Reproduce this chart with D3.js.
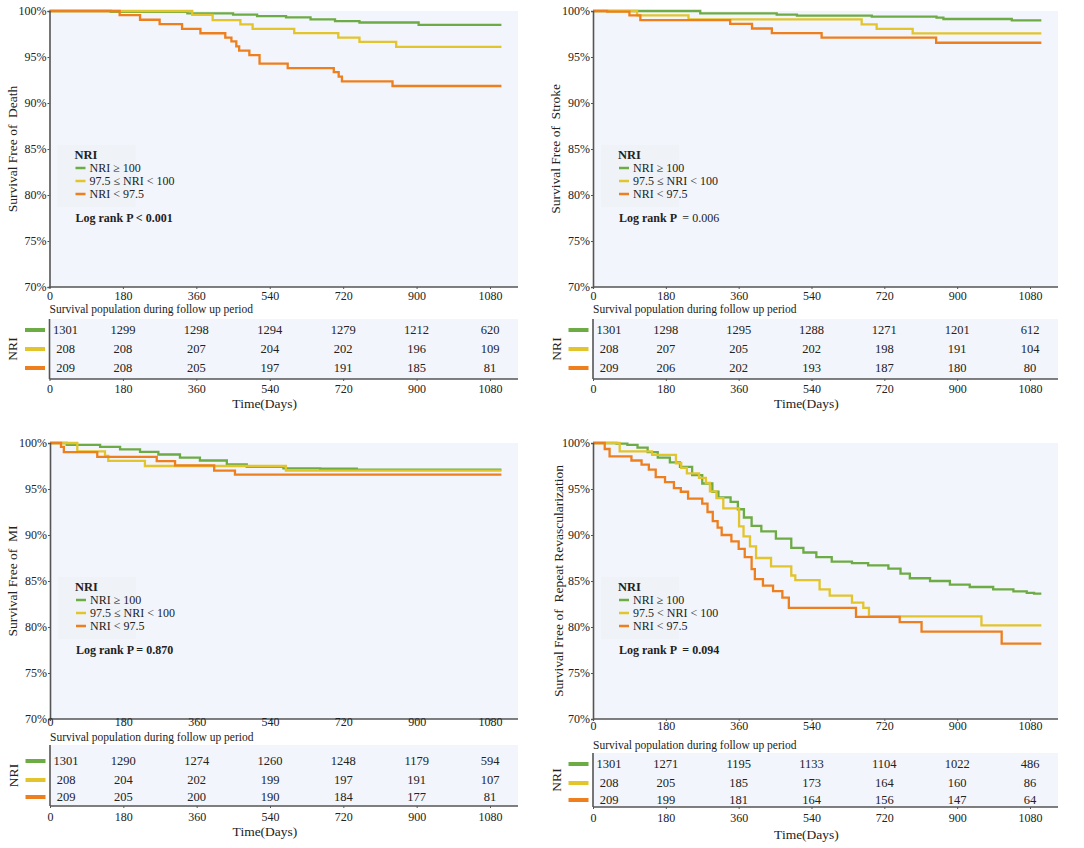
<!DOCTYPE html>
<html>
<head>
<meta charset="utf-8">
<script src="https://cdn.jsdelivr.net/npm/d3@7"></script>
<style>
  body { margin: 0; background: #fff; }
  svg { display: block; font-family: "Liberation Serif", "DejaVu Serif", serif; }
  text { fill: #222; }
</style>
</head>
<body>
<div id="chart"></div>
<script>
// time ticks and survival ticks
var dayTicks = [0, 180, 360, 540, 720, 900, 1080];
var pctTicks = [70, 75, 80, 85, 90, 95, 100];
var groups = ["NRI \u2265 100", "97.5 \u2264 NRI < 100", "NRI < 97.5"];
var groupsRevasc = ["NRI \u2265 100", "97.5 < NRI < 100", "NRI < 97.5"];

// Kaplan-Meier steps: [day, survival %]
var deathHigh = [[0,100],[150,99.9],[338,99.75],[450,99.6],[509,99.45],[580,99.3],[640,99.1],[700,98.9],[760,98.75],[905,98.5],[1108,98.5]];
var deathMid = [[0,100],[350,99.57],[400,99.0],[468,98.55],[498,98.05],[600,97.6],[708,97.1],[760,96.65],[850,96.1],[1108,96.1]];
var deathLow = [[0,100],[172,99.55],[222,99.05],[270,98.58],[325,98.05],[370,97.58],[431,97.1],[446,96.7],[458,96.15],[465,95.7],[490,95.2],[515,94.28],[584,93.8],[697,93.35],[709,92.86],[717,92.35],[841,91.85],[1108,91.85]];

var strokeHigh = [[0,100],[265,99.75],[454,99.6],[504,99.5],[689,99.38],[849,99.27],[866,99.13],[1035,98.98],[1108,98.98]];
var strokeMid = [[0,100],[109,99.53],[236,99.1],[664,98.55],[701,98.05],[790,97.57],[1108,97.57]];
var strokeLow = [[0,100],[35,99.93],[90,99.53],[117,99.0],[339,98.6],[393,98.1],[442,97.6],[565,97.1],[848,96.55],[1108,96.55]];

var miHigh = [[0,100],[41,99.8],[123,99.57],[172,99.3],[221,99.04],[266,98.75],[319,98.4],[368,98.1],[434,97.68],[483,97.4],[573,97.25],[663,97.2],[753,97.1],[1108,97.1]];
var miMid = [[0,100],[67,99.1],[135,98.6],[143,98.05],[233,97.5],[579,97.0],[1108,97.0]];
var miLow = [[0,100],[27,99.57],[34,99.0],[116,98.5],[262,98.04],[307,97.57],[403,97.0],[454,96.57],[1108,96.57]];

var revHigh = [[0,100],[58,99.93],[85,99.8],[110,99.5],[135,99.0],[160,98.4],[190,97.9],[215,97.4],[245,96.5],[270,95.6],[295,94.7],[310,94.1],[340,93.6],[358,92.8],[373,91.9],[392,91.0],[416,90.4],[452,89.6],[490,88.6],[520,88.1],[552,87.6],[590,87.1],[640,86.95],[680,86.7],[730,86.35],[760,85.8],[783,85.3],[833,85.0],[882,84.6],[931,84.35],[989,84.1],[1039,83.88],[1072,83.7],[1090,83.62],[1108,83.62]];
var revMid = [[0,100],[66,99.1],[146,98.7],[205,97.8],[218,97.3],[232,96.7],[262,96.2],[279,95.65],[289,94.74],[305,94.0],[322,92.9],[361,90.94],[372,89.85],[388,88.76],[403,87.5],[440,86.6],[490,85.6],[500,85.1],[560,84.1],[585,83.4],[640,82.65],[668,82.07],[682,81.16],[960,80.18],[1108,80.18]];
var revLow = [[0,100],[29,99.35],[41,98.55],[95,98.1],[120,97.64],[138,97.1],[155,96.3],[178,95.75],[200,95.1],[217,94.7],[235,93.95],[270,93.4],[283,92.5],[296,91.5],[308,90.8],[318,90.0],[342,89.3],[360,88.5],[375,87.6],[392,86.3],[400,85.2],[420,84.5],[445,83.9],[468,83.2],[484,82.07],[650,81.1],[758,80.54],[812,79.5],[1010,78.2],[1108,78.2]];

// numbers at risk at each day tick
var deathRisk = [[1301,1299,1298,1294,1279,1212,620],[208,208,207,204,202,196,109],[209,208,205,197,191,185,81]];
var strokeRisk = [[1301,1298,1295,1288,1271,1201,612],[208,207,205,202,198,191,104],[209,206,202,193,187,180,80]];
var miRisk = [[1301,1290,1274,1260,1248,1179,594],[208,204,202,199,197,191,107],[209,205,200,190,184,177,81]];
var revRisk = [[1301,1271,1195,1133,1104,1022,486],[208,205,185,173,164,160,86],[209,199,181,164,156,147,64]];

var colors = ["#6dab45", "#e2c42c", "#ee7f1f"];
var bg = "#f2f5fb";

// layout of the four panels (pixel positions only)
var panels = [
  {x0: 49.5, x1080: 490, right: 518, top: 11, titleX: 12, title: "Survival Free of  Death",
   series: [deathHigh, deathMid, deathLow], risk: deathRisk, labels: groups,
   pBold: "Log rank P < 0.001", pRest: "", tick1: 2, surv: 313, tTop: 319, tBot: 379, rows: [330, 349, 368], tick2: 3, time: 408},
  {x0: 593, x1080: 1030, right: 1058, top: 11, titleX: 555, title: "Survival Free of  Stroke",
   series: [strokeHigh, strokeMid, strokeLow], risk: strokeRisk, labels: groups,
   pBold: "Log rank P ", pRest: " = 0.006", tick1: 2, surv: 313, tTop: 319, tBot: 379, rows: [330, 349, 368], tick2: 3, time: 408},
  {x0: 50, x1080: 490, right: 518, top: 443, titleX: 12, title: "Survival Free of  MI",
   series: [miHigh, miMid, miLow], risk: miRisk, labels: groups,
   pBold: "Log rank P = 0.870", pRest: "", tick1: -4, surv: 741, tTop: 745, tBot: 806, rows: [761, 780, 797], tick2: 4, time: 836},
  {x0: 593, x1080: 1030, right: 1058, top: 443, titleX: 558, title: "Survival Free of  Repeat Revascularization",
   series: [revHigh, revMid, revLow], risk: revRisk, labels: groupsRevasc,
   pBold: "Log rank P  = 0.094", pRest: "", tick1: 0, surv: 749, tTop: 753, tBot: 807, rows: [764, 783, 800], tick2: 4, time: 839}
];

var svg = d3.select("#chart").append("svg")
  .attr("width", 1084)
  .attr("height", 848);

svg.append("rect").attr("width", 1084).attr("height", 848).attr("fill", "#fff");

panels.forEach(function(p) {
  var g = svg.append("g");
  var plotBottom = p.top + 276;

  var x = d3.scaleLinear().domain([0, 1080]).range([p.x0, p.x1080]);
  var y = d3.scaleLinear().domain([70, 100]).range([plotBottom, p.top]);

  // plot background
  g.append("rect")
    .attr("x", p.x0).attr("y", p.top)
    .attr("width", p.right - p.x0).attr("height", plotBottom - p.top)
    .attr("fill", bg);

  // legend box
  g.append("rect")
    .attr("x", p.x0 + 8).attr("y", p.top + 134)
    .attr("width", 78).attr("height", 62)
    .attr("fill", "#eff2f7");

  var line = d3.line()
    .x(function(d) { return x(d[0]); })
    .y(function(d) { return y(d[1]); })
    .curve(d3.curveStepAfter);

  p.series.forEach(function(s, i) {
    g.append("path")
      .datum(s)
      .attr("d", line)
      .attr("fill", "none")
      .attr("stroke", colors[i])
      .attr("stroke-width", 2.3);
  });

  // y axis
  var yAxis = g.append("g")
    .attr("transform", "translate(" + p.x0 + ",0)")
    .call(d3.axisLeft(y).tickValues(pctTicks).tickSize(2).tickPadding(1)
      .tickFormat(function(d) { return d + "%"; }));
  yAxis.select(".domain").attr("stroke", "#555").attr("stroke-width", 1.6);
  yAxis.selectAll(".tick line").attr("stroke", "#555");
  yAxis.selectAll("text").attr("font-size", 12).attr("font-family", "Liberation Serif").attr("fill", "#333");

  // x axis of the plot
  g.append("line")
    .attr("x1", p.x0).attr("x2", p.right)
    .attr("y1", plotBottom).attr("y2", plotBottom)
    .attr("stroke", "#555").attr("stroke-width", 1.4);
  var xAxis = g.append("g")
    .attr("transform", "translate(0," + plotBottom + ")")
    .call(d3.axisBottom(x).tickValues(dayTicks).tickSize(2).tickPadding(p.tick1).tickFormat(d3.format("d")));
  xAxis.select(".domain").remove();
  xAxis.selectAll(".tick line").attr("stroke", "#555");
  xAxis.selectAll("text").attr("font-size", 12).attr("font-family", "Liberation Serif").attr("fill", "#333");

  // y title
  g.append("text")
    .attr("transform", "translate(" + p.titleX + "," + (p.top + 138) + ") rotate(-90)")
    .attr("text-anchor", "middle")
    .attr("dy", "0.35em")
    .attr("font-size", 13.5)
    .style("white-space", "pre")
    .text(p.title);

  // legend
  var lx = p.x0 + 25, ly = p.top;
  g.append("text").attr("x", lx).attr("y", ly + 148)
    .attr("font-size", 12.5).attr("font-weight", "bold").text("NRI");
  p.labels.forEach(function(lab, i) {
    var cy = ly + 157 + i * 13;
    g.append("line")
      .attr("x1", lx + 1).attr("x2", lx + 11)
      .attr("y1", cy).attr("y2", cy)
      .attr("stroke", colors[i]).attr("stroke-width", 2.5);
    g.append("text").attr("x", lx + 15).attr("y", cy + 4)
      .attr("font-size", 12).text(lab);
  });
  var pt = g.append("text").attr("x", lx + 1).attr("y", ly + 211)
    .attr("font-size", 12).style("white-space", "pre");
  pt.append("tspan").attr("font-weight", "bold").text(p.pBold);
  if (p.pRest) pt.append("tspan").text(p.pRest);

  // number at risk table
  g.append("text").attr("x", p.x0).attr("y", p.surv)
    .attr("font-size", 11.5).text("Survival population during follow up period");

  g.append("rect")
    .attr("x", p.x0).attr("y", p.tTop)
    .attr("width", p.right - p.x0).attr("height", p.tBot - p.tTop)
    .attr("fill", bg);
  g.append("line")
    .attr("x1", p.x0).attr("x2", p.x0)
    .attr("y1", p.tTop).attr("y2", p.tBot)
    .attr("stroke", "#555").attr("stroke-width", 1.6);
  g.append("line")
    .attr("x1", p.x0).attr("x2", p.right)
    .attr("y1", p.tBot).attr("y2", p.tBot)
    .attr("stroke", "#555").attr("stroke-width", 1.4);
  var tAxis = g.append("g")
    .attr("transform", "translate(0," + p.tBot + ")")
    .call(d3.axisBottom(x).tickValues(dayTicks).tickSize(2).tickPadding(p.tick2).tickFormat(d3.format("d")));
  tAxis.select(".domain").remove();
  tAxis.selectAll(".tick line").attr("stroke", "#555");
  tAxis.selectAll("text").attr("font-size", 12).attr("font-family", "Liberation Serif").attr("fill", "#333");

  p.risk.forEach(function(row, i) {
    var cy = p.rows[i];
    g.append("line")
      .attr("x1", p.x0 - 24.5).attr("x2", p.x0 - 4.5)
      .attr("y1", cy).attr("y2", cy)
      .attr("stroke", colors[i]).attr("stroke-width", 4);
    g.selectAll(null)
      .data(row)
      .enter()
      .append("text")
        .attr("x", function(d, j) { return x(dayTicks[j]) + (j === 0 ? 16 : 0); })
        .attr("y", cy)
        .attr("dy", "0.35em")
        .attr("text-anchor", "middle")
        .attr("font-size", 12.5)
        .text(function(d) { return d; });
  });

  g.append("text")
    .attr("transform", "translate(" + (p.x0 - 37) + "," + ((p.tTop + p.tBot) / 2) + ") rotate(-90)")
    .attr("text-anchor", "middle")
    .attr("dy", "0.35em")
    .attr("font-size", 13.5)
    .text("NRI");

  g.append("text")
    .attr("x", (p.x0 + p.x1080) / 2 - 5).attr("y", p.time)
    .attr("text-anchor", "middle")
    .attr("font-size", 13.5)
    .text("Time(Days)");
});
</script>
</body>
</html>
